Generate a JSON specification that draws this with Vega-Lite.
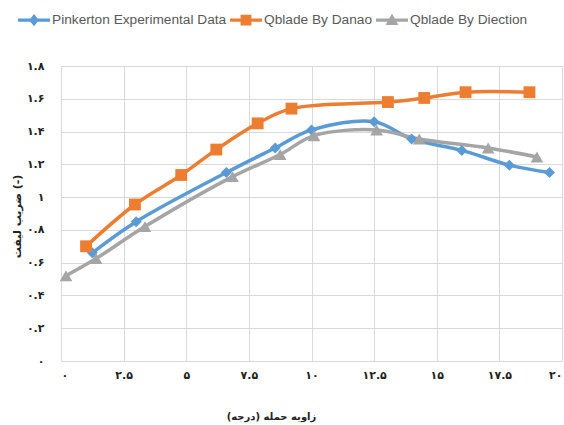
{
  "$schema": "https://vega.github.io/schema/vega-lite/v6.json",
  "width": 501,
  "height": 295,
  "autosize": "none",
  "padding": {"left": 61, "top": 66, "right": 2, "bottom": 64},
  "background": "white",
  "config": {"view": {"stroke": null}},
  "data": {
    "values": [
      {"series": "Pinkerton Experimental Data", "aoa": 1.25, "cl": 0.66},
      {"series": "Pinkerton Experimental Data", "aoa": 3.0, "cl": 0.85},
      {"series": "Pinkerton Experimental Data", "aoa": 6.6, "cl": 1.15},
      {"series": "Pinkerton Experimental Data", "aoa": 8.55, "cl": 1.3},
      {"series": "Pinkerton Experimental Data", "aoa": 10.0, "cl": 1.41},
      {"series": "Pinkerton Experimental Data", "aoa": 12.5, "cl": 1.46},
      {"series": "Pinkerton Experimental Data", "aoa": 14.0, "cl": 1.355},
      {"series": "Pinkerton Experimental Data", "aoa": 16.0, "cl": 1.285},
      {"series": "Pinkerton Experimental Data", "aoa": 17.9, "cl": 1.195},
      {"series": "Pinkerton Experimental Data", "aoa": 19.5, "cl": 1.15},
      {"series": "Qblade By Danao", "aoa": 1.0, "cl": 0.7},
      {"series": "Qblade By Danao", "aoa": 2.95, "cl": 0.955},
      {"series": "Qblade By Danao", "aoa": 4.8, "cl": 1.135},
      {"series": "Qblade By Danao", "aoa": 6.2, "cl": 1.29},
      {"series": "Qblade By Danao", "aoa": 7.85, "cl": 1.45},
      {"series": "Qblade By Danao", "aoa": 9.2, "cl": 1.54},
      {"series": "Qblade By Danao", "aoa": 13.05, "cl": 1.58},
      {"series": "Qblade By Danao", "aoa": 14.5, "cl": 1.605},
      {"series": "Qblade By Danao", "aoa": 16.15, "cl": 1.64},
      {"series": "Qblade By Danao", "aoa": 18.7, "cl": 1.64},
      {"series": "Qblade By Diection", "aoa": 0.2, "cl": 0.52},
      {"series": "Qblade By Diection", "aoa": 1.4, "cl": 0.625},
      {"series": "Qblade By Diection", "aoa": 3.35, "cl": 0.82},
      {"series": "Qblade By Diection", "aoa": 6.85, "cl": 1.125},
      {"series": "Qblade By Diection", "aoa": 8.75, "cl": 1.26},
      {"series": "Qblade By Diection", "aoa": 10.1, "cl": 1.375},
      {"series": "Qblade By Diection", "aoa": 12.6, "cl": 1.41},
      {"series": "Qblade By Diection", "aoa": 14.3, "cl": 1.355},
      {"series": "Qblade By Diection", "aoa": 17.05, "cl": 1.3},
      {"series": "Qblade By Diection", "aoa": 19.0, "cl": 1.245}
    ]
  },
  "encoding": {
    "x": {
      "field": "aoa",
      "type": "quantitative",
      "scale": {"domain": [0, 20], "nice": false, "zero": false},
      "axis": {
        "values": [0, 2.5, 5, 7.5, 10, 12.5, 15, 17.5, 20],
        "labelExpr": "replace(replace(replace(replace(replace(replace(replace(replace(replace(replace(toString(datum.value),'0','۰'),'1','۱'),'2','۲'),'3','۳'),'4','۴'),'5','۵'),'6','۶'),'7','۷'),'8','۸'),'9','۹')",
        "domain": false,
        "ticks": false,
        "grid": true,
        "gridColor": "#d9d9d9",
        "gridWidth": 1,
        "labelFont": "DejaVu Sans",
        "labelFontWeight": "bold",
        "labelFontSize": 11,
        "labelColor": "#222222",
        "labelPadding": 8,
        "title": "زاویه حمله (درجه)‏",
        "titleFont": "DejaVu Sans",
        "titleFontWeight": "bold",
        "titleFontSize": 10,
        "titleColor": "#222222",
        "titleX": 210,
        "titleY": 55,
        "titleAlign": "center",
        "titleBaseline": "middle"
      }
    },
    "y": {
      "field": "cl",
      "type": "quantitative",
      "scale": {"domain": [0, 1.8], "nice": false},
      "axis": {
        "values": [0, 0.2, 0.4, 0.6, 0.8, 1, 1.2, 1.4, 1.6, 1.8],
        "labelExpr": "replace(replace(replace(replace(replace(replace(replace(replace(replace(replace(toString(datum.value),'0','۰'),'1','۱'),'2','۲'),'3','۳'),'4','۴'),'5','۵'),'6','۶'),'7','۷'),'8','۸'),'9','۹')",
        "domain": false,
        "ticks": false,
        "grid": true,
        "gridColor": "#d9d9d9",
        "gridWidth": 1,
        "labelFont": "DejaVu Sans",
        "labelFontWeight": "bold",
        "labelFontSize": 11,
        "labelColor": "#222222",
        "labelPadding": 17,
        "title": "ضریب لیفت (-)",
        "titleFont": "DejaVu Sans",
        "titleFontWeight": "bold",
        "titleFontSize": 11,
        "titleColor": "#222222",
        "titleX": -44,
        "titleY": 150,
        "titleAngle": -90,
        "titleAlign": "center",
        "titleBaseline": "middle"
      }
    },
    "color": {
      "field": "series",
      "type": "nominal",
      "scale": {
        "domain": ["Pinkerton Experimental Data", "Qblade By Danao", "Qblade By Diection"],
        "range": ["#5b9bd5", "#ed7d31", "#a5a5a5"]
      },
      "legend": {
        "orient": "none",
        "legendX": -43,
        "legendY": -62,
        "direction": "horizontal",
        "title": null,
        "labelFont": "Liberation Sans",
        "labelFontSize": 13.7,
        "labelColor": "#595959",
        "labelLimit": 400,
        "labelOffset": 2,
        "columnPadding": 3,
        "symbolSize": 1024,
        "padding": 0,
        "encode": {
          "symbols": {
            "update": {
              "shape": {"signal": "datum.value == 'Pinkerton Experimental Data' ? 'M-1,-0.1H1V0.1H-1Z M0,-0.38L0.3,0L0,0.38L-0.3,0Z' : datum.value == 'Qblade By Danao' ? 'M-1,-0.1H1V0.1H-1Z M-0.34,-0.34H0.34V0.34H-0.34Z' : 'M-1,-0.1H1V0.1H-1Z M0,-0.42L0.4,0.3H-0.4Z'"},
              "fill": {"signal": "scale('color', datum.value)"},
              "fillOpacity": {"value": 1},
              "stroke": {"value": "transparent"},
              "strokeWidth": {"value": 0}
            }
          }
        }
      }
    }
  },
  "layer": [
    {
      "mark": {"type": "line", "interpolate": "catmull-rom", "strokeWidth": 3.5}
    },
    {
      "transform": [{"filter": "datum.series == 'Pinkerton Experimental Data'"}],
      "mark": {"type": "point", "filled": true, "opacity": 1, "size": 120, "shape": "diamond"}
    },
    {
      "transform": [{"filter": "datum.series == 'Qblade By Danao'"}],
      "mark": {"type": "point", "filled": true, "opacity": 1, "size": 140, "shape": "square"}
    },
    {
      "transform": [{"filter": "datum.series == 'Qblade By Diection'"}],
      "mark": {"type": "point", "filled": true, "opacity": 1, "size": 160, "shape": "triangle-up"}
    }
  ]
}
